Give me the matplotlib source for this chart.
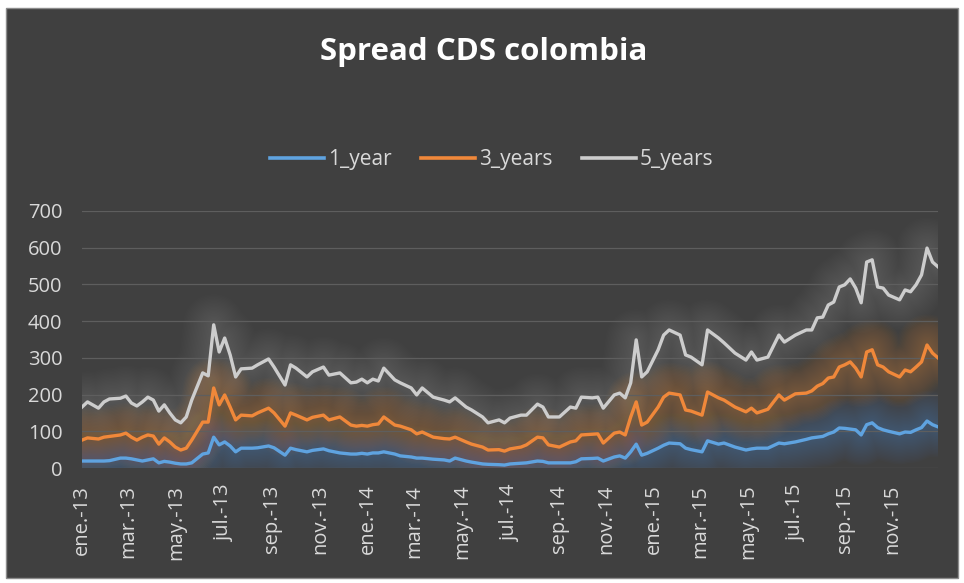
import numpy as np
import pandas as pd
import matplotlib
matplotlib.use("Agg")
import matplotlib.pyplot as plt
import matplotlib.dates as mdates
import matplotlib.patheffects as pe
from matplotlib.patches import Rectangle
from matplotlib.ticker import FuncFormatter

# Weekly observations: week offset from 1 Jan 2013
week = [0, 1, 3, 4, 5, 7, 8, 9, 10, 11, 12, 13, 14, 15, 16, 17, 18, 19, 20, 22,
        23, 24, 25, 26, 27, 28, 29, 31, 32, 34, 35, 37, 38, 39, 41, 42, 44, 45, 47, 49,
        50, 51, 52, 53, 54, 55, 57, 58, 60, 61, 62, 64, 66, 67, 68, 70, 71, 73, 74, 76,
        77, 78, 80, 81, 83, 84, 85, 87, 89, 90, 91, 93, 94, 95, 97, 98, 99, 100, 101, 102,
        103, 105, 106, 107, 109, 110, 111, 113, 114, 116, 117, 119, 121, 122, 123, 125, 127, 128, 130, 132,
        133, 134, 135, 136, 137, 138, 139, 140, 141, 142, 143, 144, 145, 146, 147, 149, 150, 151, 152, 153,
        154, 155, 156]

spread_1y = [19, 19, 19, 19, 20, 27, 27, 25, 22, 19, 22, 25, 14, 18, 16, 13, 11, 11, 14, 38,
             41, 84, 63, 71, 60, 44, 54, 54, 55, 60, 55, 35, 54, 50, 44, 48, 52, 47, 41, 38,
             38, 40, 38, 41, 41, 44, 38, 33, 30, 27, 27, 24, 22, 19, 27, 19, 16, 11, 10, 9,
             8, 11, 13, 14, 19, 18, 14, 14, 14, 17, 25, 26, 27, 19, 30, 33, 27, 44, 65, 35,
             40, 54, 62, 68, 66, 54, 50, 44, 74, 65, 68, 57, 49, 52, 54, 54, 68, 66, 71, 78,
             82, 84, 86, 93, 98, 109, 108, 106, 104, 90, 118, 123, 110, 104, 100, 93, 98, 97, 104, 110,
             128, 118, 112]

spread_3y = [76, 82, 79, 84, 86, 90, 95, 84, 76, 84, 90, 87, 65, 82, 71, 57, 49, 54, 76, 125,
             125, 218, 172, 199, 166, 131, 144, 142, 150, 163, 150, 114, 150, 144, 131, 138, 144, 131, 139, 117,
             114, 116, 114, 118, 120, 139, 117, 114, 104, 93, 98, 84, 80, 79, 84, 71, 65, 57, 49, 50,
             46, 52, 57, 63, 84, 82, 63, 57, 71, 74, 90, 92, 93, 68, 95, 98, 90, 139, 180, 117,
             125, 166, 193, 204, 199, 158, 155, 144, 207, 191, 185, 166, 153, 163, 150, 160, 199, 185, 202, 204,
             210, 223, 230, 245, 248, 275, 281, 289, 272, 248, 316, 322, 281, 275, 262, 248, 267, 262, 275, 289,
             335, 313, 300]

spread_5y = [166, 180, 163, 180, 188, 190, 196, 177, 169, 180, 193, 185, 155, 172, 150, 131, 123, 139, 185, 259,
             251, 390, 316, 354, 308, 248, 270, 272, 281, 297, 275, 226, 281, 272, 248, 262, 275, 253, 259, 232,
             234, 242, 232, 242, 237, 272, 240, 232, 218, 199, 218, 193, 185, 180, 191, 166, 158, 139, 123, 131,
             123, 136, 144, 144, 174, 166, 139, 139, 166, 163, 193, 191, 193, 163, 199, 204, 191, 232, 349, 248,
             262, 322, 362, 376, 362, 308, 302, 281, 376, 354, 341, 313, 294, 316, 294, 302, 362, 343, 362, 376,
             376, 409, 411, 444, 452, 493, 499, 515, 490, 450, 561, 567, 493, 490, 471, 458, 485, 480, 499, 526,
             599, 561, 548]

series_names = ["1_year", "3_years", "5_years"]
month_abbr = ["ene.", "feb.", "mar.", "abr.", "may.", "jun.",
              "jul.", "ago.", "sep.", "oct.", "nov.", "dic."]
y_ticks = [0, 100, 200, 300, 400, 500, 600, 700]

start = pd.Timestamp("2013-01-01")
dates = start + pd.to_timedelta(np.array(week) * 7, unit="D")

BG = "#404040"
TXT = "#D9D9D9"
colors = ["#5FA3E0", "#F0883A", "#CDCDCD"]
glow_alpha = [0.018, 0.018, 0.010]
FONT = "Open Sans"

fig = plt.figure(figsize=(9.64, 5.83), dpi=100, facecolor="white")

# dark chart panel with thin border
fig.patches.append(Rectangle((6 / 964, 1 - 578 / 583), 952 / 964, 570 / 583,
                             transform=fig.transFigure, facecolor=BG,
                             edgecolor="#8C8C8C", linewidth=1.0, zorder=-5))

ax = fig.add_axes([82 / 964, 1 - 468 / 583, (938 - 82) / 964, (468 - 211) / 583])
ax.set_zorder(2)
ax.set_facecolor(BG)
ax.patch.set_alpha(0)

series = [spread_1y, spread_3y, spread_5y]

# soft glow under each line: many faint strokes of decreasing width
for vals, c, a in zip(series, colors, glow_alpha):
    glow = [pe.Stroke(linewidth=w, foreground=c, alpha=a, capstyle="round", joinstyle="round")
            for w in range(44, 4, -2)]
    ax.plot(dates, vals, color=c, alpha=0, lw=2, zorder=1, path_effects=glow)

handles = []
for vals, c, name in zip(series, colors, series_names):
    h, = ax.plot(dates, vals, color=c, lw=2.4, zorder=3, label=name,
                 solid_joinstyle="round")
    handles.append(h)

ax.set_ylim(0, 700)
ax.set_yticks(y_ticks)
ax.set_xlim(start, dates[-1])
ax.grid(axis="y", color="#5E5E5E", linewidth=0.9, zorder=0)
for s in ax.spines.values():
    s.set_visible(False)

ax.xaxis.set_major_locator(mdates.MonthLocator(bymonth=[1, 3, 5, 7, 9, 11]))
ax.xaxis.set_major_formatter(FuncFormatter(
    lambda x, pos: f"{month_abbr[mdates.num2date(x).month - 1]}-{mdates.num2date(x).year % 100:02d}"))
ax.tick_params(axis="both", length=0, colors=TXT, labelsize=14.5)
ax.tick_params(axis="y", pad=14)
ax.tick_params(axis="x", pad=12)
for lbl in ax.get_xticklabels():
    lbl.set_rotation(90)
    lbl.set_fontfamily(FONT)
for lbl in ax.get_yticklabels():
    lbl.set_fontfamily(FONT)

fig.text(0.502, 0.91, "Spread CDS colombia", ha="center", va="center",
         color="white", fontsize=22.5, fontweight="bold", family=FONT)

leg = fig.legend(handles=handles, loc="center", bbox_to_anchor=(0.51, 0.726), ncol=3,
                 frameon=False, handlelength=2.6, handletextpad=0.2, columnspacing=1.4,
                 prop={"family": FONT, "size": 15})
for t in leg.get_texts():
    t.set_color(TXT)
for lh in leg.get_lines():
    lh.set_linewidth(2.6)

fig.savefig("out.png", dpi=100, facecolor="white")
